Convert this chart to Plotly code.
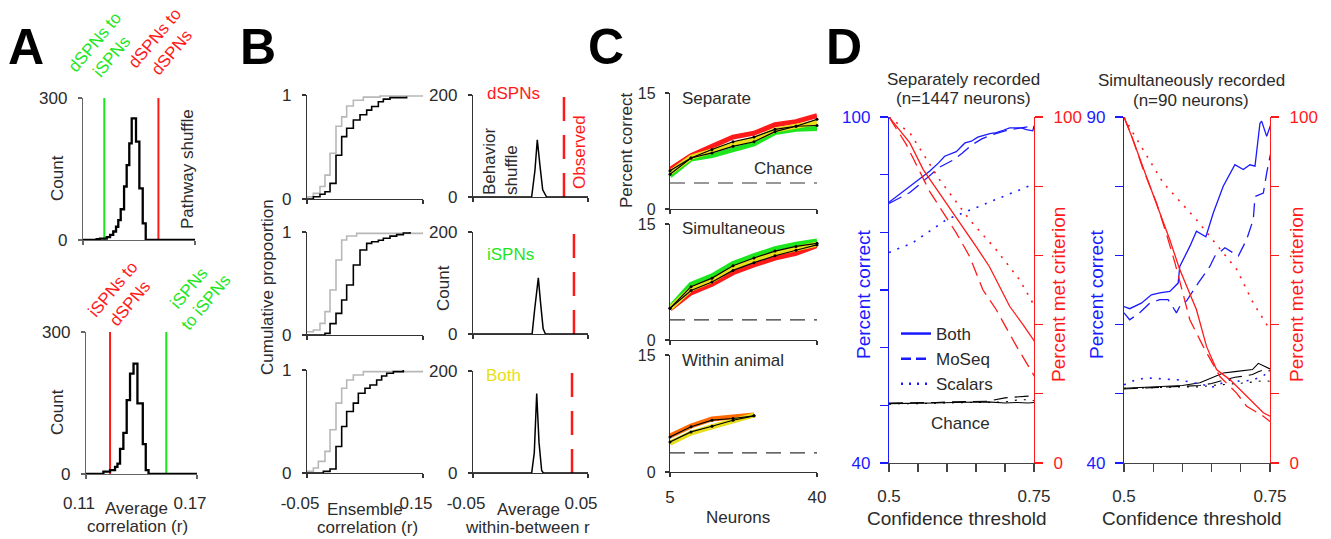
import plotly.graph_objects as go

W, H = 1331, 539
FONT = "Liberation Sans, Arial, Helvetica, sans-serif"
TXT = "#2b2b2b"
RED = "#ff1a1a"
GREEN = "#1ee61e"
BLUE = "#1a1aff"
YELLOW = "#e8de1a"
GRAY = "#b8b8b8"

# ---------------- Panel A data ----------------
a_top_edges = [0.11, 0.1173, 0.1191, 0.1227, 0.1245, 0.1262, 0.1277, 0.1289, 0.1302, 0.1320,
               0.1334, 0.1348, 0.1361, 0.1384, 0.1402, 0.1420, 0.1436, 0.17]
a_top_counts = [0, 2, 3, 6, 11, 18, 28, 42, 65, 113, 158, 204, 257, 208, 109, 35, 0]
a_top_green = 0.1214   # dSPNs to iSPNs
a_top_red = 0.1504     # dSPNs to dSPNs
a_bot_edges = [0.11, 0.1194, 0.1230, 0.1257, 0.1270, 0.1284, 0.1302, 0.1320, 0.1338, 0.1357,
               0.1378, 0.1407, 0.1423, 0.1438, 0.17]
a_bot_counts = [0, 5, 8, 15, 22, 53, 87, 156, 212, 233, 149, 63, 8, 0]
a_bot_red = 0.1230     # iSPNs to dSPNs
a_bot_green = 0.1534   # iSPNs to iSPNs
a_yticks = [0, 300]
a_xticks = [0.11, 0.17]
a_xticktext = ["0.11", "0.17"]

# ---------------- Panel B data (cumulative) ----------------
b1_black_x = [-0.05, -0.039, -0.0276, -0.019, -0.0103, 0.0, 0.0098, 0.0184, 0.0299, 0.0414,
              0.0529, 0.0615, 0.073, 0.0816, 0.0931, 0.1218]
b1_black_y = [0.0, 0.022, 0.045, 0.07, 0.15, 0.42, 0.6, 0.68, 0.76, 0.81, 0.855, 0.89, 0.935,
              0.96, 0.975, 0.985]
b1_gray_x = [-0.05, -0.039, -0.0276, -0.019, -0.0103, 0.0, 0.0098, 0.0184, 0.0299, 0.0471, 0.0759, 0.1506]
b1_gray_y = [0.02, 0.054, 0.12, 0.23, 0.44, 0.70, 0.79, 0.894, 0.95, 0.98, 0.99, 1.0]

b2_black_x = [-0.05, -0.019, -0.0103, 0.0, 0.0098, 0.0184, 0.0299, 0.0414, 0.0529, 0.0615, 0.073,
              0.0816, 0.0931, 0.1046, 0.1161, 0.1276]
b2_black_y = [0.0, 0.016, 0.11, 0.21, 0.34, 0.485, 0.68, 0.825, 0.89, 0.905, 0.92, 0.94, 0.96,
              0.975, 0.99, 1.0]
b2_gray_x = [-0.05, -0.039, -0.0276, -0.019, -0.0103, 0.0, 0.0098, 0.0184, 0.0356, 0.1506]
b2_gray_y = [0.032, 0.048, 0.113, 0.227, 0.437, 0.728, 0.922, 0.961, 0.987, 1.0]

b3_black_x = [-0.05, -0.0218, -0.0103, 0.0, 0.0098, 0.0184, 0.0299, 0.0385, 0.05, 0.0586, 0.0701,
              0.0787, 0.0874, 0.0989, 0.1161]
b3_black_y = [0.0, 0.016, 0.039, 0.258, 0.452, 0.597, 0.678, 0.774, 0.823, 0.855, 0.903, 0.942,
              0.968, 0.984, 1.0]
b3_gray_x = [-0.05, -0.039, -0.0305, -0.019, -0.0103, 0.0, 0.0098, 0.0184, 0.0299, 0.0471, 0.1506]
b3_gray_y = [0.016, 0.048, 0.113, 0.21, 0.42, 0.678, 0.823, 0.903, 0.952, 0.984, 1.0]

# ---------------- Panel B data (behavior shuffle) ----------------
b4_x = [-0.05, 0.001, 0.0039, 0.0059, 0.0083, 0.0106, 0.014, 0.05]
b4_n = [0, 0, 53, 112, 60, 14, 0, 0]
b5_x = [-0.05, 0.0014, 0.0037, 0.0068, 0.0088, 0.0110, 0.0130, 0.05]
b5_n = [0, 0, 50, 110, 60, 10, 0, 0]
b6_x = [-0.05, 0.0010, 0.0033, 0.0054, 0.0074, 0.0097, 0.0112, 0.05]
b6_n = [0, 0, 40, 156, 60, 5, 0, 0]
b_observed = [0.0291, 0.0378, 0.0361]
b_cdf_xticks = [-0.05, 0.15]
b_cdf_xtext = ["-0.05", "0.15"]
b_hist_xticks = [-0.05, 0.05]
b_hist_xtext = ["-0.05", "0.05"]

# ---------------- Panel C data ----------------
c_x = [5, 10, 15, 20, 25, 30, 35, 40]
c1_red = [5.1, 6.9, 8.1, 9.3, 9.8, 10.9, 11.3, 12.06]
c1_green = [4.3, 6.45, 6.9, 7.7, 8.4, 9.9, 10.3, 10.4]
c1_yellow = [4.7, 6.7, 7.5, 8.4, 9.0, 10.2, 10.7, 11.2]
c1_blk_hi = [4.95, 6.6, 7.7, 8.7, 9.3, 10.3, 10.7, 11.6]
c1_blk_lo = [4.5, 6.6, 7.25, 8.1, 8.7, 10.0, 10.7, 10.8]
c2_red = [4.0, 6.1, 7.2, 8.7, 9.7, 10.6, 11.2, 12.2]
c2_green = [4.2, 7.2, 8.3, 9.9, 10.9, 11.8, 12.4, 12.8]
c2_yellow = [4.1, 6.6, 7.7, 9.3, 10.3, 11.2, 11.8, 12.4]
c2_blk_hi = [4.1, 6.9, 8.0, 9.6, 10.6, 11.5, 12.1, 12.5]
c2_blk_lo = [4.1, 6.4, 7.5, 9.0, 10.0, 10.9, 11.6, 12.3]
c3_x = [5, 10, 15, 20, 25]
c3_red = [4.6, 5.9, 6.8, 7.0, 7.3]
c3_yellow = [3.7, 5.0, 5.8, 6.6, 7.3]
c3_blk_hi = [4.5, 5.8, 6.64, 6.86, 7.2]
c3_blk_lo = [3.86, 5.14, 5.87, 6.64, 7.2]
c_chance = [3.36, 2.6, 2.44]

# ---------------- Panel D data ----------------
dl_both_x = [0.5, 0.513, 0.536, 0.556, 0.570, 0.585, 0.596, 0.616, 0.631, 0.642, 0.653, 0.674,
             0.685, 0.697, 0.708, 0.720, 0.728, 0.737, 0.748, 0.750]
dl_both_y = [85.2, 86.2, 88.0, 89.4, 90.6, 92.0, 93.2, 94.0, 95.5, 95.8, 96.5, 97.1, 97.3, 97.7,
             98.1, 98.1, 98.1, 97.8, 97.6, 98.5]
dl_moseq_x = [0.5, 0.52, 0.536, 0.556, 0.571, 0.587, 0.61, 0.626, 0.642, 0.66, 0.68, 0.70, 0.72, 0.74, 0.75]
dl_moseq_y = [85.0, 86.0, 86.9, 88.6, 89.9, 91.3, 92.5, 93.7, 95.1, 96.2, 97.0, 97.6, 98.0, 98.3, 98.6]
dl_scal_x = [0.5, 0.541, 0.599, 0.656, 0.720, 0.748]
dl_scal_y = [76.5, 78.2, 82.2, 84.5, 87.1, 88.3]
dl_met_both_x = [0.5, 0.536, 0.559, 0.587, 0.627, 0.650, 0.673, 0.708, 0.731, 0.751]
dl_met_both_y = [100, 92.5, 84.8, 78.0, 68.4, 62.6, 56.8, 45.3, 40.0, 35.1]
dl_met_moseq_x = [0.5, 0.53, 0.570, 0.616, 0.639, 0.662, 0.685, 0.720, 0.751]
dl_met_moseq_y = [100, 92.0, 78.5, 66.5, 59.7, 50.0, 44.3, 33.7, 25.0]
dl_met_scal_x = [0.5, 0.536, 0.587, 0.639, 0.685, 0.725, 0.748]
dl_met_scal_y = [100, 95.4, 81.9, 70.3, 61.6, 53.0, 46.2]
dl_ch_x = [0.5, 0.52, 0.55, 0.58, 0.61, 0.64, 0.67, 0.70, 0.72, 0.74, 0.75]
dl_ch_1 = [50.3, 50.3, 50.4, 50.4, 50.5, 50.5, 50.6, 50.4, 50.5, 50.4, 50.5]
dl_ch_2 = [50.4, 50.4, 50.5, 50.5, 50.6, 50.6, 50.7, 51.3, 51.5, 51.6, 51.5]
dl_ch_3 = [50.2, 50.3, 50.3, 50.4, 50.4, 50.5, 50.5, 50.6, 50.9, 51.0, 50.8]

dr_both_x = [0.5, 0.5097, 0.5297, 0.5469, 0.5612, 0.5784, 0.5927, 0.5955, 0.6127, 0.6241, 0.6402,
             0.6527, 0.6699, 0.6899, 0.7042, 0.7157, 0.7243, 0.7328, 0.7357, 0.7443, 0.7512]
dr_both_y = [62.6, 62.3, 63.1, 64.3, 64.6, 64.8, 66.0, 68.4, 71.3, 73.5, 72.7, 76.1, 80.0, 83.1,
             82.4, 83.1, 82.9, 89.1, 89.4, 87.2, 88.9]
dr_moseq_x = [0.5, 0.5097, 0.5269, 0.5441, 0.5612, 0.5755, 0.5898, 0.5984, 0.607, 0.627, 0.647,
              0.6556, 0.6728, 0.6957, 0.71, 0.7214, 0.7243, 0.7386, 0.7443, 0.7512]
dr_moseq_y = [61.7, 60.7, 61.7, 63.1, 63.6, 63.6, 61.7, 63.1, 63.4, 66.0, 68.4, 69.9, 71.1, 69.9,
              72.3, 75.2, 78.5, 79.0, 81.9, 84.8]
dr_scal_x = [0.5, 0.52, 0.538, 0.57, 0.595, 0.625, 0.652, 0.681, 0.70, 0.721, 0.74, 0.751]
dr_scal_y = [51.3, 52.0, 52.3, 52.1, 52.0, 51.5, 51.0, 52.0, 51.8, 52.0, 52.7, 53.3]
dr_met_both_x = [0.5, 0.5154, 0.5383, 0.5612, 0.5784, 0.5955, 0.607, 0.6241, 0.6413, 0.6585,
                 0.6813, 0.7042, 0.7214, 0.7386, 0.75]
dr_met_both_y = [100, 93.4, 82.8, 72.3, 64.5, 55.9, 51.0, 44.3, 33.7, 27.0, 24.1, 20.2, 17.3, 14.5, 13.5]
dr_met_moseq_x = [0.5, 0.512, 0.5326, 0.556, 0.573, 0.587, 0.6127, 0.6356, 0.6642, 0.6928, 0.71, 0.7386, 0.75]
dr_met_moseq_y = [100, 95.0, 85.0, 75.0, 66.0, 58.0, 41.4, 33.7, 25.0, 20.2, 16.4, 13.5, 12.0]
dr_met_scal_x = [0.5, 0.5154, 0.5669, 0.6241, 0.6699, 0.6928, 0.7214, 0.75]
dr_met_scal_y = [100, 95.4, 81.0, 70.3, 60.7, 56.0, 46.2, 38.5]
dr_ch_x = [0.5, 0.53, 0.56, 0.6, 0.63, 0.65, 0.67, 0.69, 0.71, 0.72, 0.73, 0.74, 0.75]
dr_ch_1 = [50.8, 50.9, 51.0, 51.2, 51.6, 52.3, 53.0, 53.2, 53.4, 53.5, 54.4, 54.0, 53.6]
dr_ch_2 = [50.7, 50.8, 50.9, 51.0, 51.2, 51.5, 52.0, 52.4, 52.6, 52.8, 53.2, 53.5, 53.3]
dr_ch_3 = [50.8, 50.9, 50.9, 51.0, 51.0, 51.2, 51.3, 51.5, 51.6, 51.7, 51.8, 51.9, 51.8]

d_xticks = [0.5, 0.55, 0.6, 0.65, 0.7, 0.75]
d_xtext = ["0.5", "", "", "", "", "0.75"]
dl_yticks = [40, 50, 60, 70, 80, 90, 100]
dl_ytext = ["40", "", "", "", "", "", "100"]
dr_yticks = [40, 50, 60, 70, 80, 90]
dr_ytext = ["40", "", "", "", "", "90"]
d_met_ticks = [0, 20, 40, 60, 80, 100]
d_met_text = ["0", "", "", "", "", "100"]
d_legend = ["Both", "MoSeq", "Scalars"]


# ---------------- helpers ----------------
def dx(a, b):
    return [a / W, b / W]


def dy(top, bot):
    return [1 - bot / H, 1 - top / H]


def axis(domain, rng, tickvals, ticktext, anchor, color="#444", ticklen=4, standoff=6,
         shift=0, fontcolor=TXT, side=None, overlaying=None, layer="above traces", fsize=17):
    d = dict(range=rng, anchor=anchor, showline=True, linecolor=color, linewidth=1.2,
             ticks="outside", ticklen=ticklen, tickwidth=1.2, tickcolor=color,
             tickmode="array", tickvals=tickvals, ticktext=ticktext,
             tickfont=dict(family=FONT, size=fsize, color=fontcolor), showgrid=False,
             zeroline=False, ticklabelstandoff=standoff, ticklabelshift=shift,
             fixedrange=True, layer=layer, automargin=False)
    if domain is not None:
        d["domain"] = domain
    if side:
        d["side"] = side
    if overlaying:
        d["overlaying"] = overlaying
    return d


fig = go.Figure()


def line(x, y, xa, ya, color, width=1.3, dash="solid", shape="linear", mode="lines", msize=0):
    fig.add_trace(go.Scatter(x=x, y=y, xaxis=xa, yaxis=ya, mode=mode, showlegend=False,
                             line=dict(color=color, width=width, dash=dash, shape=shape),
                             marker=dict(size=msize, color=color), cliponaxis=False,
                             hoverinfo="skip"))


lay = {}
# ---- Panel A axes ----
lay["xaxis"] = axis(dx(83, 195), [0.11, 0.17], a_xticks, ["", ""], "y", color="#666", layer="below traces")
lay["yaxis"] = axis(dy(98, 240), [0, 300], a_yticks, ["0", "300"], "x", color="#666", standoff=7, layer="below traces")
lay["xaxis2"] = axis(dx(86, 197), [0.11, 0.17], a_xticks, a_xticktext, "y2", color="#666",
                     standoff=9, shift=-7, layer="below traces")
lay["yaxis2"] = axis(dy(332, 474), [0, 300], a_yticks, ["0", "300"], "x2", color="#666", standoff=7, layer="below traces")

for xs, ys, edges, counts, gx, rx in [("x", "y", a_top_edges, a_top_counts, a_top_green, a_top_red),
                                       ("x2", "y2", a_bot_edges, a_bot_counts, a_bot_green, a_bot_red)]:
    line([gx, gx], [0, 300], xs, ys, GREEN, width=2)
    line([rx, rx], [0, 300], xs, ys, RED, width=2)
    line(edges, counts + [counts[-1]], xs, ys, "black", width=2.3, shape="hv")

# ---- Panel B axes ----
b_rows = [(95, 199), (232, 335), (370, 473)]
b_hrows = [(95, 197), (232, 334), (371, 473)]
cdf_data = [(b1_black_x, b1_black_y, b1_gray_x, b1_gray_y),
            (b2_black_x, b2_black_y, b2_gray_x, b2_gray_y),
            (b3_black_x, b3_black_y, b3_gray_x, b3_gray_y)]
hist_data = [(b4_x, b4_n), (b5_x, b5_n), (b6_x, b6_n)]
for i in range(3):
    n = 3 + i
    last = i == 2
    lay[f"xaxis{n}"] = axis(dx(307, 423), [-0.05, 0.15], b_cdf_xticks,
                            b_cdf_xtext if last else ["", ""], f"y{n}", color="#333",
                            standoff=10, shift=-7, layer="below traces")
    lay[f"yaxis{n}"] = axis(dy(*b_rows[i]), [0, 1], [0, 1], ["0", "1"], f"x{n}", color="#333",
                            standoff=7, layer="below traces")
    bx, by, gx_, gy_ = cdf_data[i]
    line(gx_, gy_, f"x{n}", f"y{n}", GRAY, width=1.6, shape="hv")
    line(bx, by, f"x{n}", f"y{n}", "black", width=1.6, shape="hv")

    m = 6 + i
    lay[f"xaxis{m}"] = axis(dx(473, 588), [-0.05, 0.05], b_hist_xticks,
                            b_hist_xtext if last else ["", ""], f"y{m}", color="#333",
                            standoff=10, shift=-7, layer="below traces")
    lay[f"yaxis{m}"] = axis(dy(*b_hrows[i]), [0, 200], [0, 200], ["0", "200"], f"x{m}",
                            color="#333", standoff=7, layer="below traces")
    hx, hn = hist_data[i]
    line([b_observed[i], b_observed[i]], [0, 200], f"x{m}", f"y{m}", RED, width=2.5, dash="24px,14px")
    line(hx, hn, f"x{m}", f"y{m}", "black", width=1.5)

# ---- Panel C axes ----
c_rows = [(93, 209), (224, 340), (355, 472)]
c_sets = [(c_x, c1_green, c1_red, c1_yellow, c1_blk_hi, c1_blk_lo),
          (c_x, c2_red, c2_green, c2_yellow, c2_blk_hi, c2_blk_lo),
          (c3_x, None, c3_red, c3_yellow, c3_blk_hi, c3_blk_lo)]
for i in range(3):
    n = 9 + i
    last = i == 2
    lay[f"xaxis{n}"] = axis(dx(670, 817), [5, 40], [5, 40], ["5", "40"] if last else ["", ""],
                            f"y{n}", color="#333", standoff=5, layer="below traces")
    lay[f"yaxis{n}"] = axis(dy(*c_rows[i]), [0, 15], [0, 15], ["0", "15"], f"x{n}", color="#333",
                            standoff=6, layer="below traces", fsize=16)
    xx, first, second, yel, hi, lo = c_sets[i]
    line([5, 40], [c_chance[i], c_chance[i]], f"x{n}", f"y{n}", "#333", width=1.2, dash="15px,9px")
    if i == 1:
        line(xx, first, f"x{n}", f"y{n}", RED, width=5)
        line(xx, second, f"x{n}", f"y{n}", GREEN, width=5)
    elif i == 0:
        line(xx, first, f"x{n}", f"y{n}", GREEN, width=5)
        line(xx, second, f"x{n}", f"y{n}", RED, width=5)
    else:
        line(xx, second, f"x{n}", f"y{n}", "#ff6a00", width=5)
    line(xx, yel, f"x{n}", f"y{n}", YELLOW, width=5)
    line(xx, hi, f"x{n}", f"y{n}", "black", width=1.2, mode="lines+markers", msize=3)
    line(xx, lo, f"x{n}", f"y{n}", "black", width=1.2, mode="lines+markers", msize=3)

# ---- Panel D axes ----
lay["xaxis12"] = axis(dx(889, 1034), [0.5, 0.75], d_xticks, d_xtext, "y12", color="#444",
                      ticklen=8, standoff=9)
lay["yaxis12"] = axis(dy(117, 463), [40, 100], dl_yticks, dl_ytext, "x12", color=BLUE,
                      ticklen=8, standoff=6, fontcolor=BLUE)
lay["yaxis13"] = axis(None, [0, 100], d_met_ticks, d_met_text, "x12", color=RED, ticklen=8,
                      standoff=7, fontcolor=RED, side="right", overlaying="y12")
lay["xaxis14"] = axis(dx(1124, 1270), [0.5, 0.75], d_xticks, d_xtext, "y14", color="#444",
                      ticklen=8, standoff=9)
lay["yaxis14"] = axis(dy(117, 463), [40, 90], dr_yticks, dr_ytext, "x14", color=BLUE,
                      ticklen=8, standoff=6, fontcolor=BLUE)
lay["yaxis15"] = axis(None, [0, 100], d_met_ticks, d_met_text, "x14", color=RED, ticklen=8,
                      standoff=7, fontcolor=RED, side="right", overlaying="y14")

DASH = "14px,7px"
DOT = "2px,7px"
for xa, yb, yr, sets in [
    ("x12", "y12", "y13", dict(both=(dl_both_x, dl_both_y), moseq=(dl_moseq_x, dl_moseq_y),
                              scal=(dl_scal_x, dl_scal_y), mboth=(dl_met_both_x, dl_met_both_y),
                              mmoseq=(dl_met_moseq_x, dl_met_moseq_y), mscal=(dl_met_scal_x, dl_met_scal_y),
                              ch=(dl_ch_x, [dl_ch_1, dl_ch_2, dl_ch_3]))),
    ("x14", "y14", "y15", dict(both=(dr_both_x, dr_both_y), moseq=(dr_moseq_x, dr_moseq_y),
                              scal=(dr_scal_x, dr_scal_y), mboth=(dr_met_both_x, dr_met_both_y),
                              mmoseq=(dr_met_moseq_x, dr_met_moseq_y), mscal=(dr_met_scal_x, dr_met_scal_y),
                              ch=(dr_ch_x, [dr_ch_1, dr_ch_2, dr_ch_3])))]:
    chx, chys = sets["ch"]
    line(chx, chys[0], xa, yb, "black", width=1.1)
    line(chx, chys[1], xa, yb, "black", width=1.1, dash=DASH)
    line(chx, chys[2], xa, yb, "black", width=1.1, dash=DOT)
    line(*sets["both"], xa, yb, BLUE, width=1.3)
    line(*sets["moseq"], xa, yb, BLUE, width=1.3, dash=DASH)
    line(*sets["scal"], xa, yb, BLUE, width=1.6, dash=DOT)
    line(*sets["mboth"], xa, yr, RED, width=1.3)
    line(*sets["mmoseq"], xa, yr, RED, width=1.3, dash=DASH)
    line(*sets["mscal"], xa, yr, RED, width=1.6, dash=DOT)

# legend entries (panel D)
for name, dash in zip(d_legend, ["solid", "10px,5px", "2px,6px"]):
    fig.add_trace(go.Scatter(x=[None], y=[None], xaxis="x12", yaxis="y12", mode="lines",
                             name=name, line=dict(color=BLUE, width=2.5, dash=dash)))

# ---------------- annotations ----------------
anns = []


def ann(text, x, y, size=17, color=TXT, angle=0, xanchor="center", yanchor="middle",
        bold=False, align="center"):
    anns.append(dict(text=f"<b>{text}</b>" if bold else text, x=x / W, y=1 - y / H,
                     xref="paper", yref="paper", showarrow=False, textangle=angle,
                     xanchor=xanchor, yanchor=yanchor, align=align,
                     font=dict(family=FONT, size=size, color=color)))


# panel letters
for letter, px in [("A", 6), ("B", 238), ("C", 586), ("D", 824)]:
    ann(letter, px, 47, size=50, color="black", xanchor="left", bold=True)

# A
ann("dSPNs to<br>iSPNs", 103, 49, color=GREEN, angle=-50)
ann("dSPNs to<br>dSPNs", 163, 45, color=RED, angle=-50)
ann("iSPNs to<br>dSPNs", 121, 296, color=RED, angle=-50)
ann("iSPNs<br>to iSPNs", 197, 295, color=GREEN, angle=-50)
ann("Count", 57, 178, angle=-90)
ann("Count", 57, 412, angle=-90)
ann("Pathway shuffle", 187, 169, angle=-90)
ann("Average", 136, 508)
ann("correlation (r)", 137, 526)

# B
ann("Cumulative propoortion", 267, 287, angle=-90)
ann("Ensemble", 365, 509)
ann("correlation (r)", 367, 527)
ann("Average", 528, 509)
ann("within-between r", 527, 527)
ann("dSPNs", 485, 93, color=RED, xanchor="left")
ann("iSPNs", 485, 255, color=GREEN, xanchor="left")
ann("Both", 484, 375, color=YELLOW, xanchor="left")
ann("Behavior<br>shuffle", 500, 162, angle=-90, align="left")
ann("Count", 443, 288, angle=-90)
ann("Observed", 579, 152, color=RED, angle=-90)

# C
ann("Percent correct", 627, 150, angle=-90)
ann("Separate", 680, 98, xanchor="left")
ann("Chance", 815, 168, xanchor="right")
ann("Simultaneous", 680, 228, xanchor="left")
ann("Within animal", 680, 360, xanchor="left")
ann("Neurons", 738, 517)

# D
ann("Separately recorded", 963, 79)
ann("(n=1447 neurons)", 963, 98)
ann("Simultaneously recorded", 1191, 80)
ann("(n=90 neurons)", 1191, 100)
ann("Percent correct", 863, 294, size=19, color=BLUE, angle=-90)
ann("Percent correct", 1096, 294, size=19, color=BLUE, angle=-90)
ann("Percent met criterion", 1058, 295, size=19, color=RED, angle=-90)
ann("Percent met criterion", 1296, 295, size=19, color=RED, angle=-90)
ann("Chance", 960, 424)
ann("Confidence threshold", 957, 518, size=19)
ann("Confidence threshold", 1192, 518, size=19)

fig.update_layout(
    width=W, height=H, margin=dict(l=0, r=0, t=0, b=0, pad=0, autoexpand=False),
    paper_bgcolor="white", plot_bgcolor="rgba(0,0,0,0)",
    font=dict(family=FONT, size=17, color=TXT),
    showlegend=True,
    legend=dict(x=896 / W, y=1 - 316 / H, xanchor="left", yanchor="top",
                bgcolor="rgba(0,0,0,0)", font=dict(family=FONT, size=17, color=TXT),
                itemwidth=30, tracegroupgap=0, traceorder="normal"),
    annotations=anns,
    **lay,
)

fig.write_html("out.html", config={"displayModeBar": False, "staticPlot": True},
               post_script="document.body.style.margin='0';document.body.style.padding='0';"
                           "document.documentElement.style.overflow='hidden';")
